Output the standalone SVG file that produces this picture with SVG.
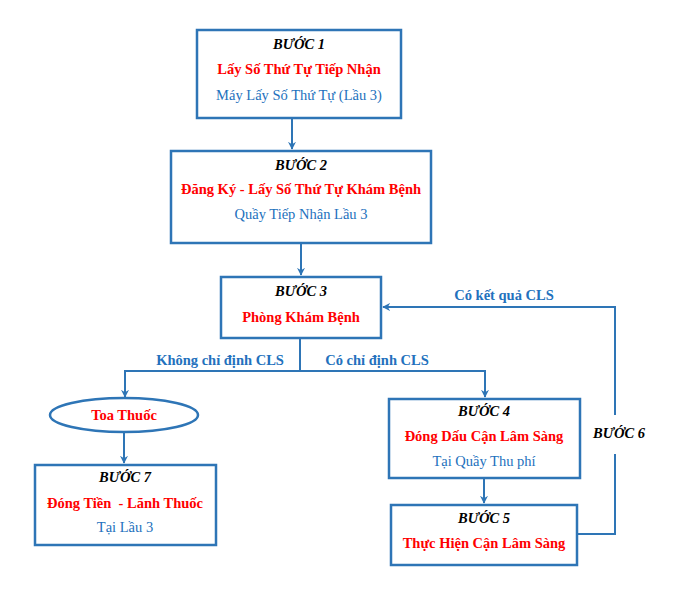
<svg xmlns="http://www.w3.org/2000/svg" width="680" height="592" viewBox="0 0 680 592">
<style>
.box{fill:#fff;stroke:#2E75B6;stroke-width:2.5}
.con{fill:none;stroke:#2E75B6;stroke-width:2}
text{font-family:"Liberation Serif","Times New Roman",serif;text-anchor:middle;white-space:pre}
.t{font-size:14.5px;font-weight:bold;font-style:italic;fill:#000}
.r{font-size:14.5px;font-weight:bold;fill:#FF0000}
.b{font-size:14.5px;fill:#2371BD}
.l{font-size:14.5px;font-weight:bold;fill:#2371BD}
</style>
<defs>
<marker id="ah" viewBox="0 0 10 10" refX="9" refY="5" markerWidth="4" markerHeight="4" orient="auto">
<path d="M0,0 L10,5 L0,10 L3,5 Z" fill="#2E75B6"/>
</marker>
</defs>
<rect width="680" height="592" fill="#fff"/>
<g id="connectors">
<line class="con" x1="292" y1="119" x2="292" y2="149" marker-end="url(#ah)"/>
<line class="con" x1="301" y1="244" x2="301" y2="275" marker-end="url(#ah)"/>
<path class="con" d="M300,339 V371"/>
<path class="con" d="M125,398 V371 H485 V397" marker-end="url(#ah)"/>
<path class="con" d="M125,371 V397" marker-end="url(#ah)"/>
<line class="con" x1="124" y1="433" x2="124" y2="463" marker-end="url(#ah)"/>
<line class="con" x1="484" y1="479" x2="484" y2="503" marker-end="url(#ah)"/>
<path class="con" d="M578,534 H615 V454"/>
<path class="con" d="M615,415 V307 H383" marker-end="url(#ah)"/>
<text class="l" x="220" y="365">Không chỉ định CLS</text>
<text class="l" x="377" y="365">Có chỉ định CLS</text>
<text class="l" x="504" y="300">Có kết quả CLS</text>
<text class="t" x="619" y="438">BƯỚC 6</text>
</g>
<g id="step1">
<rect class="box" x="197" y="30" width="204" height="88"/>
<text class="t" x="299" y="49">BƯỚC 1</text>
<text class="r" x="299" y="74">Lấy Số Thứ Tự Tiếp Nhận</text>
<text class="b" x="299" y="100">Máy Lấy Số Thứ Tự (Lầu 3)</text>
</g>
<g id="step2">
<rect class="box" x="171" y="151" width="260" height="92"/>
<text class="t" x="301" y="170">BƯỚC 2</text>
<text class="r" x="301" y="194">Đăng Ký - Lấy Số Thứ Tự Khám Bệnh</text>
<text class="b" x="301" y="219">Quầy Tiếp Nhận Lầu 3</text>
</g>
<g id="step3">
<rect class="box" x="221" y="277" width="160" height="61"/>
<text class="t" x="301" y="296">BƯỚC 3</text>
<text class="r" x="301" y="322">Phòng Khám Bệnh</text>
</g>
<g id="toa-thuoc">
<ellipse cx="124" cy="415" rx="74" ry="17" fill="#fff" stroke="#2E75B6" stroke-width="2.5"/>
<text class="r" x="124" y="420">Toa Thuốc</text>
</g>
<g id="step7">
<rect class="box" x="35" y="465" width="181" height="80"/>
<text class="t" x="125" y="482">BƯỚC 7</text>
<text class="r" x="125" y="508" xml:space="preserve">Đóng Tiền  - Lãnh Thuốc</text>
<text class="b" x="125" y="532">Tại Lầu 3</text>
</g>
<g id="step4">
<rect class="box" x="389" y="399" width="191" height="79"/>
<text class="t" x="484" y="416">BƯỚC 4</text>
<text class="r" x="484" y="441">Đóng Dấu Cận Lâm Sàng</text>
<text class="b" x="484" y="466">Tại Quầy Thu phí</text>
</g>
<g id="step5">
<rect class="box" x="391" y="505" width="186" height="60"/>
<text class="t" x="484" y="523">BƯỚC 5</text>
<text class="r" x="484" y="548">Thực Hiện Cận Lâm Sàng</text>
</g>
</svg>
